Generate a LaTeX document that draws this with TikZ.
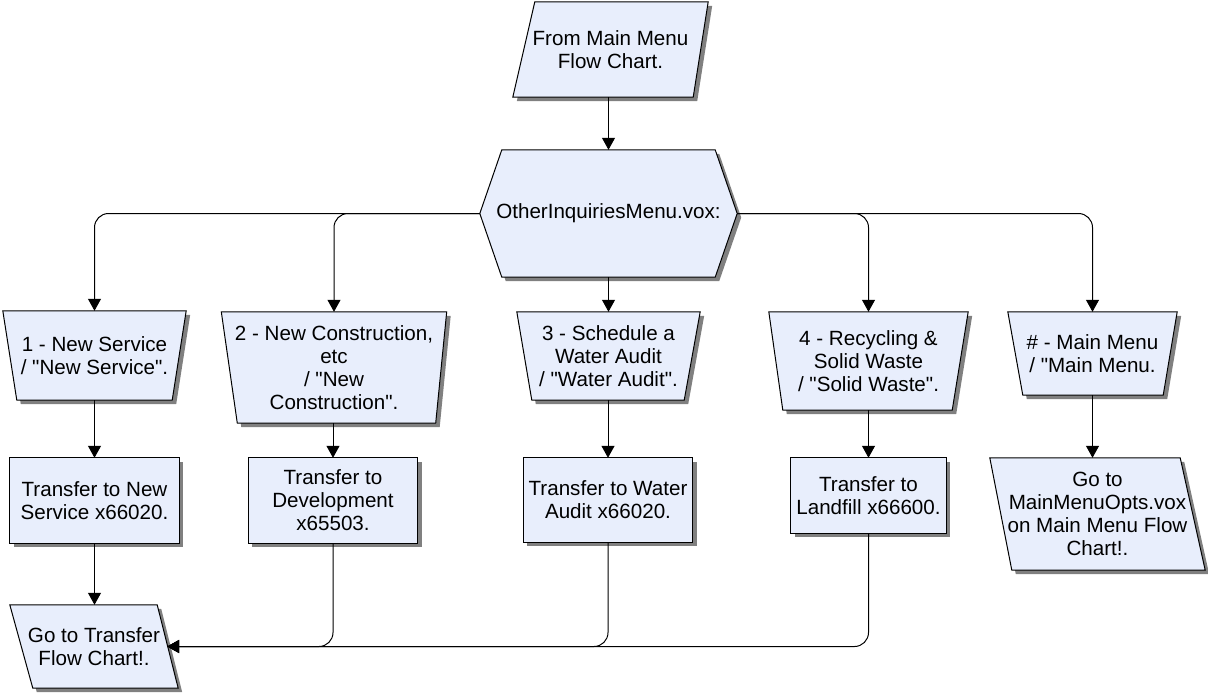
\documentclass[tikz,border=0pt]{standalone}
\usepackage{fontspec}
\setmainfont{Liberation Sans}
\usetikzlibrary{calc,backgrounds,arrows.meta}
\definecolor{boxfill}{RGB}{232,238,252}
\definecolor{shadowgray}{RGB}{128,128,128}
\newcommand\dq{\textquotedbl}
% four-cornered outline around a node; #2..#5 pull the corners
% (top left, top right, bottom right, bottom left) inwards, #6 shifts it
\newcommand\quadpath[6]{%
  ($(#1.north west)+(#2,0)+#6$) -- ($(#1.north east)+(-#3,0)+#6$) --
  ($(#1.south east)+(-#4,0)+#6$) -- ($(#1.south west)+(#5,0)+#6$) -- cycle}
\newcommand\flowquad[5]{%
  \fill[shadowgray] \quadpath{#1}{#2}{#3}{#4}{#5}{(4,4)};
  \filldraw[outline] \quadpath{#1}{#2}{#3}{#4}{#5}{(0,0)};}
% hexagonal prompt outline, #2 = depth of the side points
\newcommand\hexpath[3]{%
  ($(#1.west)+#3$) -- ($(#1.north west)+(#2,0)+#3$) -- ($(#1.north east)+(-#2,0)+#3$) --
  ($(#1.east)+#3$) -- ($(#1.south east)+(-#2,0)+#3$) -- ($(#1.south west)+(#2,0)+#3$) -- cycle}
\begin{document}
\begin{tikzpicture}[x=1pt,y=-1pt,
  font=\fontsize{20.6}{23}\selectfont,
  shapebox/.style={rectangle, inner sep=0pt, align=center},
  outline/.style={draw=black, line width=1pt, fill=boxfill},
  flow/.style={line width=1pt, -{Triangle[length=12pt,width=13pt]}},
  elbow/.style={rounded corners=14pt}
]
\useasboundingbox (0,0) rectangle (1208,694);

% entry point and menu prompt
\node[shapebox, minimum width=195pt, minimum height=95pt] (p0) at (610.5,49.5)
  {From Main Menu\\Flow Chart.};
\node[shapebox, minimum width=257pt, minimum height=127pt] (menu) at (608.5,213.5)
  {OtherInquiriesMenu.vox:};

% menu choices
\node[shapebox, minimum width=183pt, minimum height=89pt] (t1) at (94.5,355.5)
  {1 - New Service\\/ \dq New Service\dq.};
\node[shapebox, minimum width=225pt, minimum height=111pt] (t2) at (334,367.5)
  {2 - New Construction,\\etc\\/ \dq New\\Construction\dq.};
\node[shapebox, minimum width=183pt, minimum height=88pt] (t3) at (608.5,356)
  {3 - Schedule a\\Water Audit\\/ \dq Water Audit\dq.};
\node[shapebox, minimum width=199pt, minimum height=98pt] (t4) at (868.5,361)
  {4 - Recycling \&\\Solid Waste\\/ \dq Solid Waste\dq.};
\node[shapebox, minimum width=169pt, minimum height=83pt] (t5) at (1092.5,353.5)
  {\# - Main Menu\\/ \dq Main Menu.};

% transfers
\node[shapebox, minimum width=169pt, minimum height=85pt] (r1) at (94.5,500.5)
  {Transfer to New\\Service x66020.};
\node[shapebox, minimum width=169pt, minimum height=85pt] (r2) at (333,500.5)
  {Transfer to\\Development\\x65503.};
\node[shapebox, minimum width=169pt, minimum height=84pt] (r3) at (608,500)
  {Transfer to Water\\Audit x66020.};
\node[shapebox, minimum width=155pt, minimum height=75pt] (r4) at (868.5,495.5)
  {Transfer to\\Landfill x66600.};

% exits
\node[shapebox, minimum width=168pt, minimum height=83pt] (p1) at (94,646.5)
  {Go to Transfer\\Flow Chart!.};
\node[shapebox, minimum width=215pt, minimum height=112pt] (p5) at (1097.5,514)
  {Go to\\MainMenuOpts.vox\\on Main Menu Flow\\Chart!.};
\coordinate (p1in) at ($(p1.east)+(-11,0)$);

% outlines with their shadows, behind the texts
\begin{scope}[on background layer]
  \flowquad{p0}{22}{0}{15}{0}
  \fill[shadowgray] \hexpath{menu}{22}{(4,4)};
  \filldraw[outline] \hexpath{menu}{22}{(0,0)};
  \flowquad{t1}{0}{0}{14}{14}
  \flowquad{t2}{0}{0}{11}{16}
  \flowquad{t3}{0}{0}{16}{15}
  \flowquad{t4}{0}{0}{16}{14}
  \flowquad{t5}{0}{0}{14}{15}
  \flowquad{r1}{0}{0}{0}{0}
  \flowquad{r2}{0}{0}{0}{0}
  \flowquad{r3}{0}{0}{0}{0}
  \flowquad{r4}{0}{0}{0}{0}
  \flowquad{p1}{0}{21}{0}{23}
  \flowquad{p5}{0}{25}{0}{22}
\end{scope}

% connectors
\draw[flow] (p0.south -| menu.north) -- (menu.north);
\draw[flow, elbow] (menu.west) -| (t1.north);
\draw[flow, elbow] (menu.west) -| (t2.north);
\draw[flow] (menu.south) -- (t3.north);
\draw[flow, elbow] (menu.east) -| (t4.north);
\draw[flow, elbow] (menu.east) -| (t5.north);

\draw[flow] (t1.south) -- (r1.north);
\draw[flow] (t2.south -| r2.north) -- (r2.north);
\draw[flow] (t3.south -| r3.north) -- (r3.north);
\draw[flow] (t4.south) -- (r4.north);
\draw[flow] (t5.south) -- (t5.south |- p5.north);

\draw[flow] (r1.south) -- (r1.south |- p1.north);
\draw[flow, elbow] (r2.south) |- (p1in);
\draw[flow, elbow] (r3.south) |- (p1in);
\draw[flow, elbow] (r4.south) |- (p1in);
\end{tikzpicture}
\end{document}
